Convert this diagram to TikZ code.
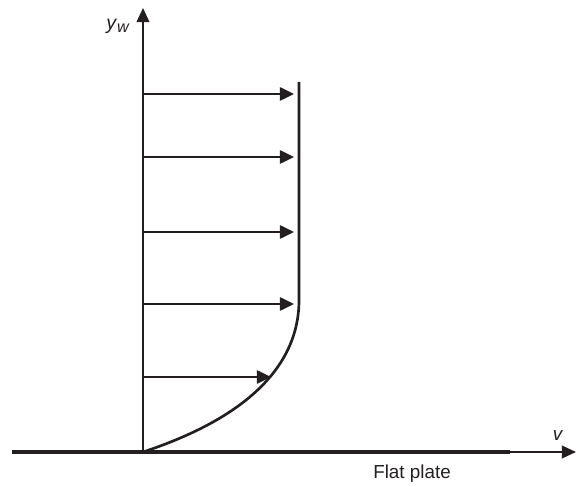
\documentclass[tikz,border=0pt]{standalone}
\usepackage{fontspec}
\setmainfont{Liberation Sans}
\usetikzlibrary{arrows.meta}
\definecolor{inkdark}{RGB}{35,31,32}

\begin{document}
\begin{tikzpicture}[
    x=0.025cm, y=0.025cm,
    font=\fontsize{13.4}{15}\selectfont, text=inkdark,
    axis/.style={-{Triangle[length=10pt, width=9pt]}, line width=1.3pt, inkdark},
    arrow/.style={-{Triangle[length=10pt, width=9.5pt]}, line width=1.1pt, inkdark},
    plate/.style={line width=2.8pt, inkdark},
    profile/.style={line width=1.9pt, inkdark}
]
\useasboundingbox (0,0) rectangle (576,486);

% Points
\coordinate (o) at (143,34);
\coordinate (ytop) at (143,478);
\coordinate (pl) at (12,34);
\coordinate (pr) at (510,34);
\coordinate (vtip) at (576,34);
\coordinate (ptop) at (299,404);
\coordinate (pbend) at (299,186);

% Flat plate and axes
\draw[plate] (pl) -- (pr);
\draw[axis, line width=1.1pt] (pr) -- (vtip);
\draw[axis] (o) -- (ytop);

% Velocity profile
\draw[profile] (ptop) -- (pbend)
    .. controls (299,116) and (240,66) .. (o);

% Velocity arrows
\coordinate (a1) at (143,392); \coordinate (b1) at (294,392);
\coordinate (a2) at (143,329); \coordinate (b2) at (294,329);
\coordinate (a3) at (143,254); \coordinate (b3) at (294,254);
\coordinate (a4) at (143,182); \coordinate (b4) at (294,182);
\coordinate (a5) at (143,109); \coordinate (b5) at (271,109);
\draw[arrow] (a1) -- (b1);
\draw[arrow] (a2) -- (b2);
\draw[arrow] (a3) -- (b3);
\draw[arrow] (a4) -- (b4);
\draw[arrow] (a5) -- (b5);

% Labels
\node (yw) at (118,460) {\fontsize{14}{15}\selectfont\textit{y}\raisebox{-0.35ex}{\fontsize{11.5}{12}\selectfont\textit{w}}};
\node (vlab) at (558,50) {\textit{v}};
\node (flat) at (412,12) {Flat plate};

\end{tikzpicture}
\end{document}
